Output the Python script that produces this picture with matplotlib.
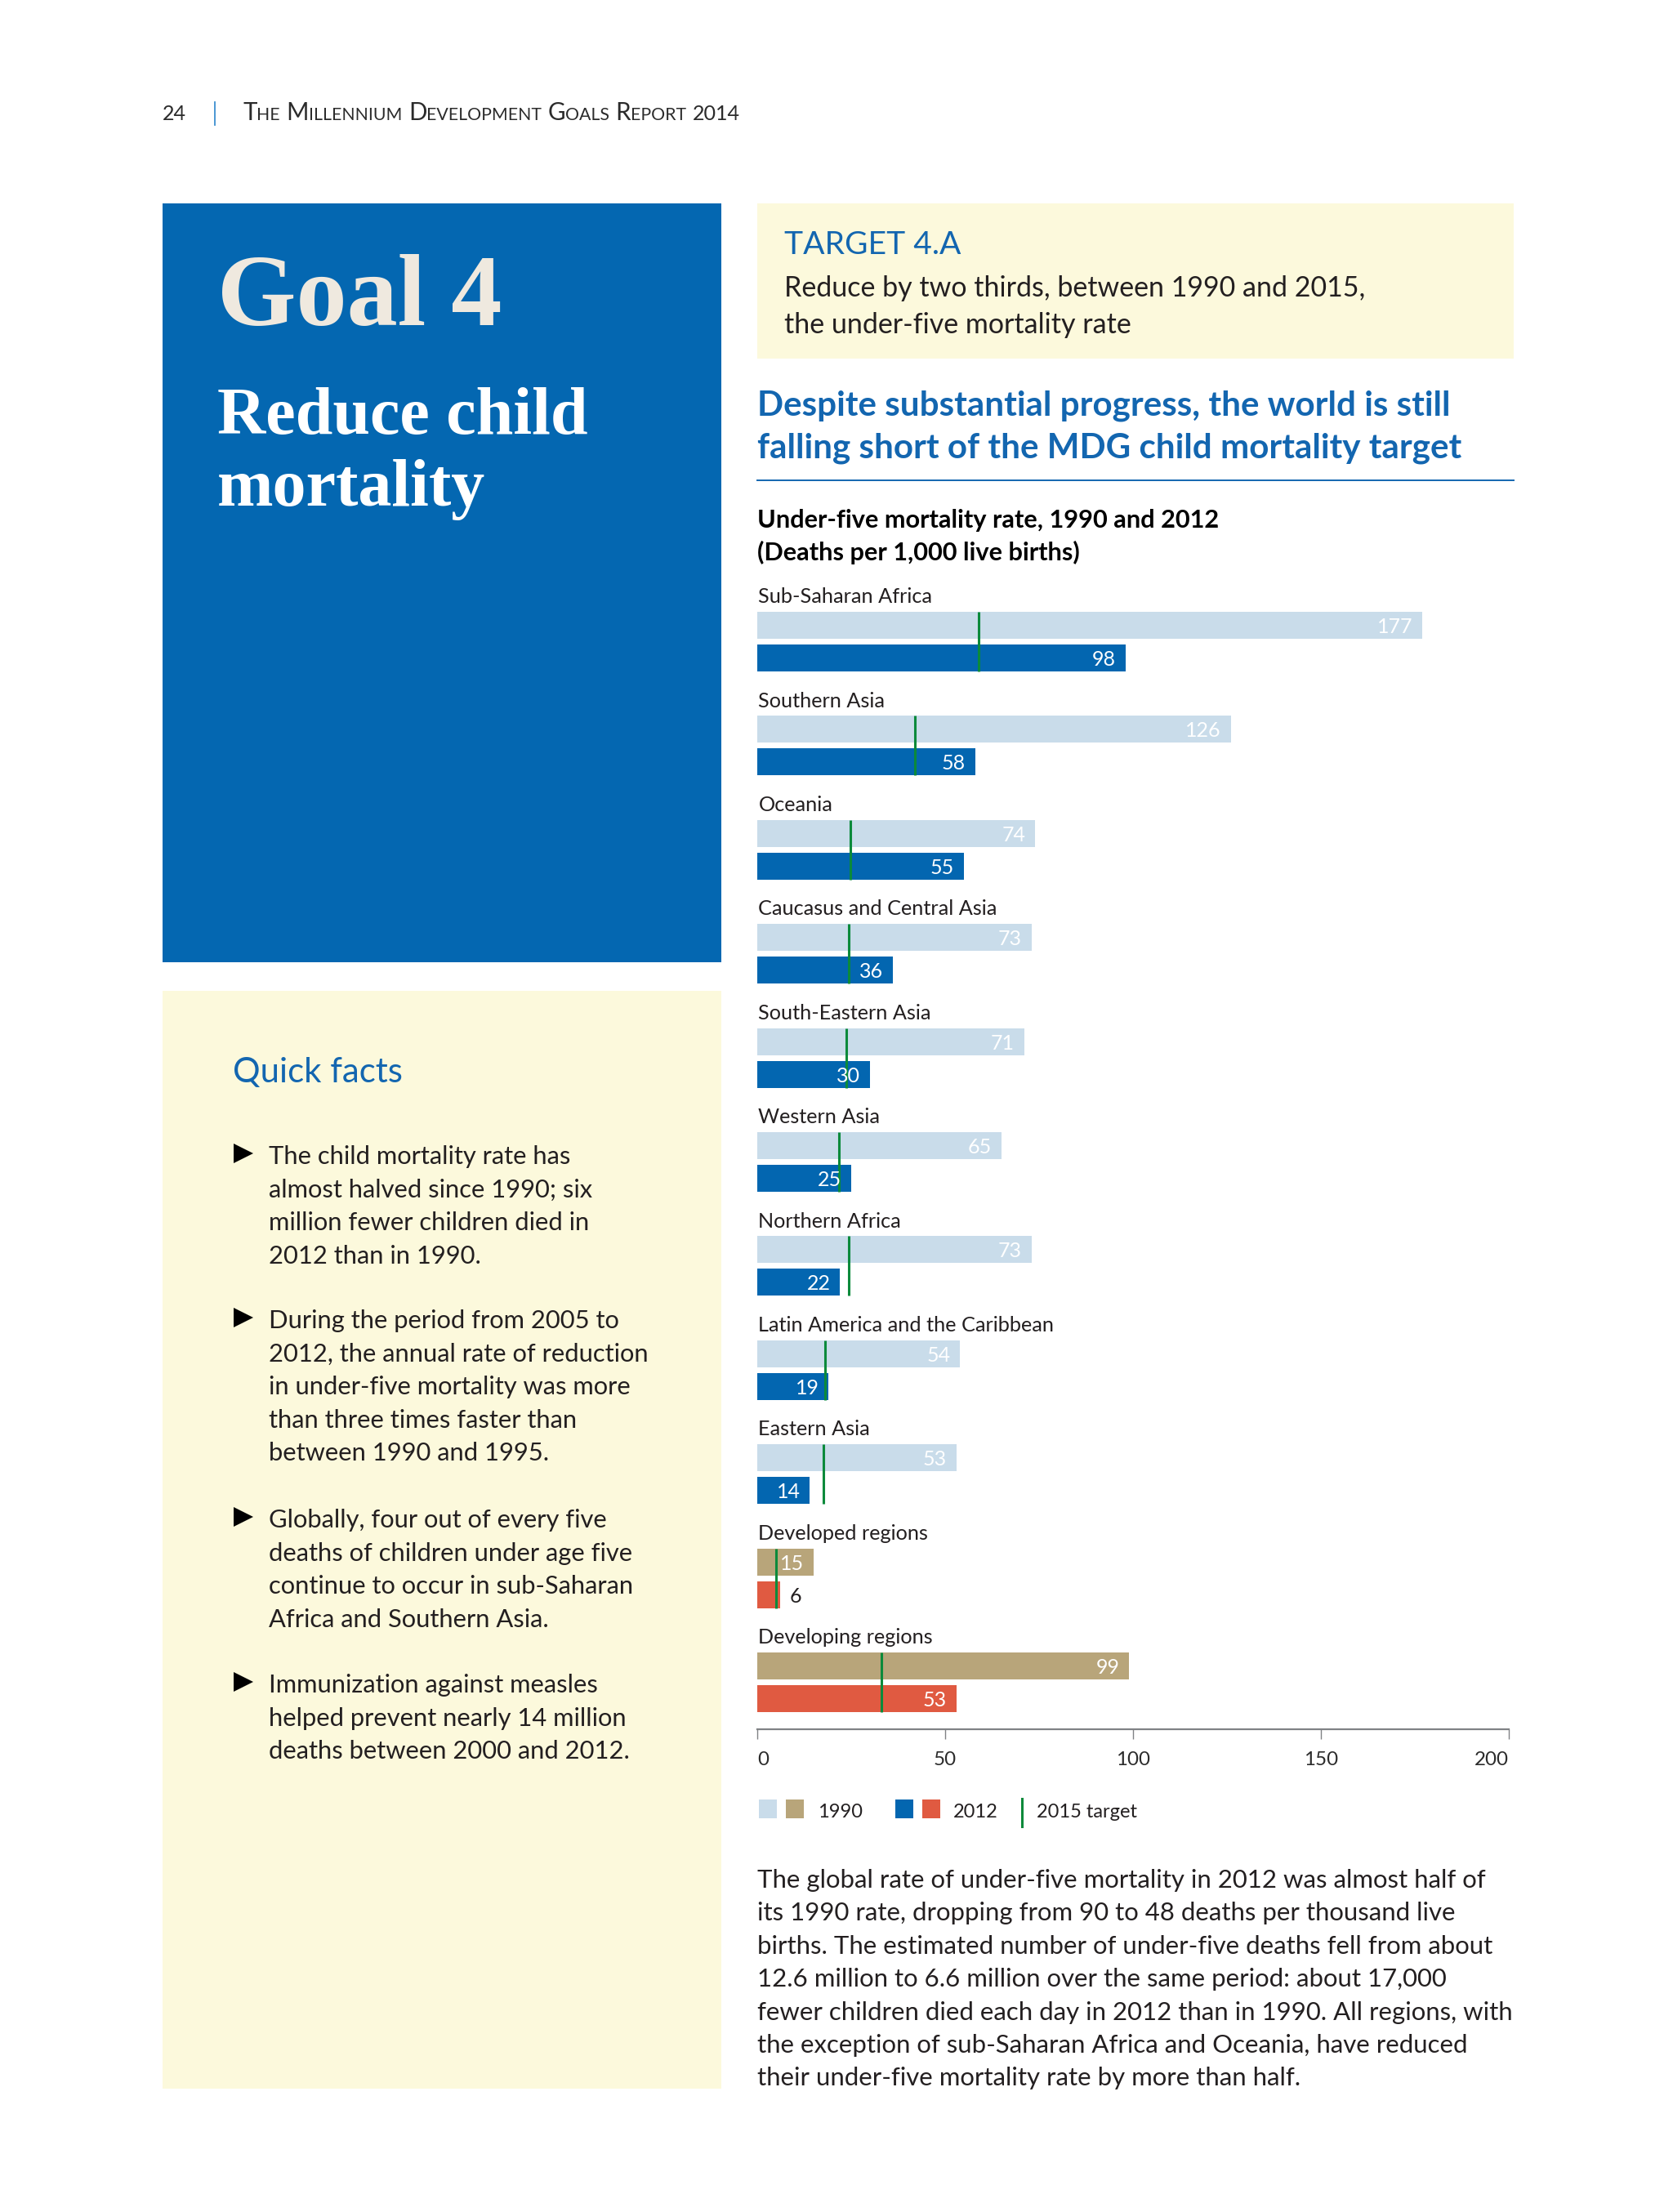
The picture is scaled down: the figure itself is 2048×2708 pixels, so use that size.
import numpy as np
import matplotlib
matplotlib.use('Agg')
import matplotlib.pyplot as plt
from matplotlib.patches import Rectangle, Polygon
from matplotlib.lines import Line2D

# ---------------- data ----------------
regions = ["Sub-Saharan Africa", "Southern Asia", "Oceania", "Caucasus and Central Asia",
           "South-Eastern Asia", "Western Asia", "Northern Africa",
           "Latin America and the Caribbean", "Eastern Asia", "Developed regions",
           "Developing regions"]
rate_1990 = [177, 126, 74, 73, 71, 65, 73, 54, 53, 15, 99]
rate_2012 = [98, 58, 55, 36, 30, 25, 22, 19, 14, 6, 53]
target_2015 = [59, 42, 24.7, 24.3, 23.7, 21.7, 24.3, 18, 17.7, 5, 33]
x_ticks = [0, 50, 100, 150, 200]
group_kind = ["region"] * 9 + ["aggregate"] * 2

facts = [
    ["The child mortality rate has", "almost halved since 1990; six",
     "million fewer children died in", "2012 than in 1990."],
    ["During the period from 2005 to", "2012, the annual rate of reduction",
     "in under-five mortality was more", "than three times faster than",
     "between 1990 and 1995."],
    ["Globally, four out of every five", "deaths of children under age five",
     "continue to occur in sub-Saharan", "Africa and Southern Asia."],
    ["Immunization against measles", "helped prevent nearly 14 million",
     "deaths between 2000 and 2012."],
]
paragraph = [
    "The global rate of under-five mortality in 2012 was almost half of",
    "its 1990 rate, dropping from 90 to 48 deaths per thousand live",
    "births. The estimated number of under-five deaths fell from about",
    "12.6 million to 6.6 million over the same period: about 17,000",
    "fewer children died each day in 2012 than in 1990. All regions, with",
    "the exception of sub-Saharan Africa and Oceania, have reduced",
    "their under-five mortality rate by more than half.",
]

# ---------------- style ----------------
BLUE_BOX = "#0467b1"
CREAM = "#fcf9dc"
LIGHT = "#c9dcea"
BLUE = "#0366b0"
TAN = "#b8a57a"
RED = "#e05a41"
GREEN = "#0b8a3b"
TEXT = "#231f20"
HEAD_BLUE = "#1366b0"
AXIS_GREY = "#808285"

SANS = ["Lato", "DejaVu Sans"]
SERIF = ["Liberation Serif", "DejaVu Serif"]

W, H = 2048, 2708
DPI = 100
fig = plt.figure(figsize=(W / DPI, H / DPI), dpi=DPI)
fig.patch.set_facecolor("white")
bg = fig.add_axes([0, 0, 1, 1])
bg.set_xlim(0, W)
bg.set_ylim(H, 0)
bg.axis("off")
renderer = fig.canvas.get_renderer()


def width_of(s, size, **kw):
    t = bg.text(0, 0, s, fontsize=size, **kw)
    w = t.get_window_extent(renderer).width
    t.remove()
    return w


def fit(s, target, **kw):
    return 20.0 * target / width_of(s, 20, **kw)


# ---------------- header (small caps) ----------------
hdr_kw = dict(family=SANS, weight="normal", color="#2b2b2b")
bg.text(199, 147, "24", fontsize=fit("24", 29, **hdr_kw), va="baseline", **hdr_kw)
bg.add_line(Line2D([263, 263], [125, 153], color="#3b8fd0", lw=1.3))
words = ["The", "Millennium", "Development", "Goals", "Report", "2014"]


def header_runs(L):
    runs = []
    for w in words:
        if w[0].isalpha():
            runs.append((w[0].upper(), L))
            runs.append((w[1:].upper(), L * 0.72))
        else:
            runs.append((w, L * 0.85))
        runs.append((" ", L))
    return runs[:-1]


def runs_width(runs):
    return sum(width_of(s, sz, **hdr_kw) for s, sz in runs)


L0 = 20.0
Lh = L0 * 610 / runs_width(header_runs(L0))
x = 297
for s, sz in header_runs(Lh):
    bg.text(x, 147, s, fontsize=sz, va="baseline", **hdr_kw)
    x += width_of(s, sz, **hdr_kw)

# ---------------- blue goal box ----------------
bg.add_patch(Rectangle((199, 249), 883 - 199, 1178 - 249, color=BLUE_BOX, lw=0))
g_kw = dict(family=SERIF, weight="bold")
bg.text(266, 398, "Goal 4", fontsize=fit("Goal 4", 348, **g_kw), color="#efe9df",
        va="baseline", **g_kw)
rs = fit("Reduce child", 455, **g_kw)
bg.text(266, 531, "Reduce child", fontsize=rs, color="white", va="baseline", **g_kw)
bg.text(266, 619, "mortality", fontsize=rs, color="white", va="baseline", **g_kw)

# ---------------- quick facts box ----------------
bg.add_patch(Rectangle((199, 1213), 883 - 199, 2557 - 1213, color=CREAM, lw=0))
bg.text(285, 1325, "Quick facts", fontsize=fit("Quick facts", 208, family=SANS),
        color=HEAD_BLUE, va="baseline", family=SANS)
fs_facts = fit("2012, the annual rate of reduction", 467, family=SANS)
starts = [1425, 1626, 1870, 2072]
for lines, y0 in zip(facts, starts):
    bg.add_patch(Polygon([[286, y0 - 25], [286, y0 - 1], [310, y0 - 13]],
                         closed=True, color="black", lw=0))
    for k, ln in enumerate(lines):
        bg.text(329, y0 + k * 40.6, ln, fontsize=fs_facts, color=TEXT,
                va="baseline", family=SANS)

# ---------------- target box ----------------
bg.add_patch(Rectangle((927, 249), 1853 - 927, 439 - 249, color=CREAM, lw=0))
bg.text(960, 311, "TARGET 4.A", fontsize=fit("TARGET 4.A", 216, family=SANS),
        color=HEAD_BLUE, va="baseline", family=SANS)
ts = fit("Reduce by two thirds, between 1990 and 2015,", 714, family=SANS)
bg.text(960, 363, "Reduce by two thirds, between 1990 and 2015,", fontsize=ts,
        color=TEXT, va="baseline", family=SANS)
bg.text(960, 408, "the under-five mortality rate", fontsize=ts, color=TEXT,
        va="baseline", family=SANS)

# ---------------- headline ----------------
hb = dict(family=SANS, weight="bold")
hs = fit("Despite substantial progress, the world is still", 848, **hb)
bg.text(927, 509, "Despite substantial progress, the world is still", fontsize=hs,
        color=HEAD_BLUE, va="baseline", **hb)
bg.text(927, 561, "falling short of the MDG child mortality target", fontsize=hs,
        color=HEAD_BLUE, va="baseline", **hb)
bg.add_line(Line2D([927, 1853], [588, 588], color=HEAD_BLUE, lw=1.4))

cs = fit("Under-five mortality rate, 1990 and 2012", 567, **hb)
bg.text(927, 646, "Under-five mortality rate, 1990 and 2012", fontsize=cs,
        color="black", va="baseline", **hb)
bg.text(927, 686, "(Deaths per 1,000 live births)", fontsize=cs,
        color="black", va="baseline", **hb)

# ---------------- chart ----------------
ax = fig.add_axes([927 / W, 1 - 2117 / H, (1847 - 927) / W, (2117 - 698) / H])
ax.patch.set_alpha(0)
ax.set_xlim(0, 200)
ax.set_ylim(10.887, -0.25)

idx = np.arange(len(regions))
OFF1, OFF2, BH = 0.279, 0.593, 0.259
col90 = [LIGHT if k == "region" else TAN for k in group_kind]
col12 = [BLUE if k == "region" else RED for k in group_kind]
ax.barh(idx + OFF1, rate_1990, height=BH, color=col90, lw=0)
ax.barh(idx + OFF2, rate_2012, height=BH, color=col12, lw=0)
ax.vlines(target_2015, idx + OFF1 - BH / 2, idx + OFF2 + BH / 2, color=GREEN, lw=2.2)

lab_fs = fit("Sub-Saharan Africa", 213, family=SANS)
val_kw = dict(family=SANS, weight="normal")
val_fs = fit("98", 29, **val_kw)
for i, name in enumerate(regions):
    ax.text(0.3, i + 0.065, name, fontsize=lab_fs, color=TEXT, va="baseline",
            family=SANS)
    for v, yy in ((rate_1990[i], i + OFF1), (rate_2012[i], i + OFF2)):
        if v >= 10:
            ax.annotate(str(v), (v, yy), xytext=(-8.5, 0), textcoords="offset points",
                        ha="right", va="center_baseline", fontsize=val_fs,
                        color="white", **val_kw)
        else:
            ax.annotate(str(v), (v, yy), xytext=(8.5, 0), textcoords="offset points",
                        ha="left", va="center_baseline", fontsize=val_fs,
                        color=TEXT, **val_kw)

for sp in ["top", "right", "left"]:
    ax.spines[sp].set_visible(False)
ax.spines["bottom"].set_color(AXIS_GREY)
ax.spines["bottom"].set_linewidth(1.6)
ax.set_yticks([])
ax.set_xticks(x_ticks)
tick_kw = dict(family=SANS, weight="normal")
tick_fs = fit("100", 42, **tick_kw)
ax.set_xticklabels([str(t) for t in x_ticks], fontsize=tick_fs, color="#2b2b2b",
                   **tick_kw)
ax.tick_params(axis="x", direction="out", length=8.5, width=1.0, color=AXIS_GREY,
               pad=11)
tl = ax.get_xticklabels()
tl[0].set_ha("left")
tl[-1].set_ha("right")

# ---------------- legend ----------------
leg_fs = fit("2015 target", 123, family=SANS)
for x0, c in ((929, LIGHT), (962, TAN), (1096, BLUE), (1129, RED)):
    bg.add_patch(Rectangle((x0, 2203), 22, 23, color=c, lw=0))
bg.text(1001, 2225, "1990", fontsize=leg_fs, color=TEXT, va="baseline", family=SANS)
bg.text(1167, 2225, "2012", fontsize=leg_fs, color=TEXT, va="baseline", family=SANS)
bg.add_line(Line2D([1251, 1251], [2202, 2236], color=GREEN, lw=2.2))
bg.text(1269, 2225, "2015 target", fontsize=leg_fs, color=TEXT, va="baseline",
        family=SANS)

# ---------------- paragraph ----------------
ps = fit(paragraph[4], 924, family=SANS)
for k, ln in enumerate(paragraph):
    bg.text(927, 2311 + k * 40.4, ln, fontsize=ps, color=TEXT, va="baseline",
            family=SANS)

fig.savefig("out.png", dpi=DPI, facecolor="white")
